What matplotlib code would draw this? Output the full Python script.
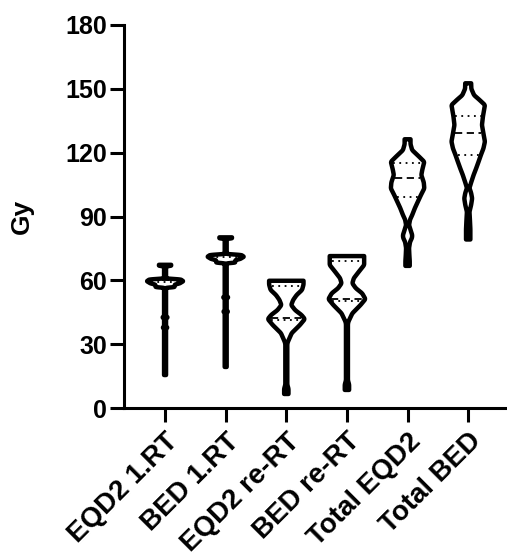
import numpy as np
import matplotlib
matplotlib.use("Agg")
import matplotlib.pyplot as plt

plt.rcParams['font.family'] = ['Liberation Sans', 'DejaVu Sans']
plt.rcParams['font.weight'] = 'bold'

categories = ["EQD2 1.RT", "BED 1.RT", "EQD2 re-RT", "BED re-RT", "Total EQD2", "Total BED"]

# density profiles: (dose value, relative half-width)
eqd2_1rt_y = [15.5, 37, 37.8, 38.6, 41.8, 42.6, 43.4, 56.5, 56.8, 58, 58.6, 59.6, 60.4, 60.9, 66.6, 66.8, 67.3]
eqd2_1rt_w = [1, 1, 2.2, 1, 1, 2.5, 1, 1, 9.5, 10, 15, 18.5, 16, 1, 1, 6.2, 6.2]
bed_1rt_y = [19.3, 44.5, 45.3, 46.1, 51.2, 52, 52.8, 68.0, 68.3, 69.5, 70.1, 71.1, 71.9, 72.4, 79.5, 79.7, 80.2]
bed_1rt_w = [1, 1, 2.2, 1, 1, 2.5, 1, 1, 9.5, 10, 15, 18.5, 16, 1, 1, 6.4, 6.4]
eqd2_re_y = [6.6, 9, 11, 30, 31, 35.2, 39, 41.8, 43.7, 46, 48.4, 50.8, 53.1, 55.5, 58, 59.8]
eqd2_re_w = [2.2, 2.2, 1, 1, 1.5, 5.5, 13.8, 18.8, 15.5, 9, 5, 7, 10.5, 16, 17.5, 17.5]
bed_re_y = [8.5, 11, 13, 39.5, 40.6, 44.5, 48.4, 51.2, 53.9, 56.3, 58.6, 61, 64, 67.2, 69.5, 71.4]
bed_re_w = [2.2, 2.2, 1, 1, 1.5, 5.5, 13.8, 18.8, 15.5, 9, 5.5, 7, 12, 17.5, 17.5, 17.5]
tot_eqd2_y = [66.8, 69, 72, 75.2, 78, 80, 81.3, 83, 86, 88.5, 90.7, 94, 97, 100, 103.2, 106, 109.5, 112, 115.7, 118, 121.2, 124, 126.3]
tot_eqd2_w = [2.2, 2.2, 1.8, 1.5, 2.5, 4.5, 4.7, 3.5, 1.5, 2.5, 4.7, 7.5, 10.5, 13.5, 17, 16.5, 14, 15, 17, 12, 4.7, 3, 3]
tot_bed_y = [79.2, 84, 88, 92.2, 95.5, 98.5, 101, 103.4, 106, 109.5, 112.5, 115.7, 119, 122, 125.2, 129, 133, 137, 142.4, 145, 147, 150, 152.6]
tot_bed_w = [2.2, 2.2, 1.8, 1.3, 3, 4, 3, 1.3, 3, 5.5, 8, 10.5, 13, 15.5, 17, 15.5, 14, 15, 17, 11, 6, 3.2, 3]

profiles_y = [eqd2_1rt_y, bed_1rt_y, eqd2_re_y, bed_re_y, tot_eqd2_y, tot_bed_y]
profiles_w = [eqd2_1rt_w, bed_1rt_w, eqd2_re_w, bed_re_w, tot_eqd2_w, tot_bed_w]

medians = [60, 72, 42.5, 51.2, 108.2, 129.1]
q1s = [59, 71, 41.5, 50.4, 99.3, 118.9]
q3s = [60.5, 72.5, 57.5, 69, 115, 137.4]

y_ticks = [0, 30, 60, 90, 120, 150, 180]

fig = plt.figure(figsize=(5.07, 5.59), dpi=100)
ax = fig.add_axes([0.2446, 0.2701, 0.7554, 0.6852])

MAXW = 0.30
LW = 3.2
smooth_k = [3, 3, 12, 12, 12, 12]

for i, (py, pw) in enumerate(zip(profiles_y, profiles_w)):
    py = np.asarray(py, float)
    pw = np.asarray(pw, float) / 18.5 * MAXW
    yy = np.arange(py[0], py[-1] + 1e-9, 0.05)
    ww = np.interp(yy, py, pw)
    k = smooth_k[i]
    pad = np.pad(ww, k, mode='edge')
    ker = np.ones(2 * k + 1) / (2 * k + 1)
    ww = np.convolve(pad, ker, mode='valid')
    xs = np.concatenate([i - ww, (i + ww)[::-1]])
    ys = np.concatenate([yy, yy[::-1]])
    ax.fill(xs, ys, facecolor='white', edgecolor='black', linewidth=LW,
            joinstyle='round', zorder=3)
    for val, ls in [(medians[i], (0, (4, 2.5))), (q1s[i], (0, (1, 2.5))), (q3s[i], (0, (1, 2.5)))]:
        hw = np.interp(val, yy, ww) - 0.035
        if hw > 0.03:
            ax.plot([i - hw, i + hw], [val, val], color='black', lw=1.3,
                    linestyle=ls, zorder=4, solid_capstyle='butt', dash_capstyle='butt')

ax.set_xlim(-0.677, 5.64)
ax.set_ylim(0, 180)
ax.set_yticks(y_ticks)
ax.set_yticklabels([str(t) for t in y_ticks], fontsize=18, fontweight='bold')
ax.set_xticks(range(len(categories)))
ax.set_xticklabels(categories, rotation=45, ha='right', va='top',
                   rotation_mode='anchor', fontsize=20, fontweight='bold')
ax.set_ylabel('Gy', fontsize=19, fontweight='bold')
ax.yaxis.set_label_coords(-0.235, 0.5)
for s in ['top', 'right']:
    ax.spines[s].set_visible(False)
for s in ['left', 'bottom']:
    ax.spines[s].set_linewidth(2.2)
ax.tick_params(axis='both', length=10, width=2.2, pad=2)
ax.tick_params(axis='x', pad=4.5)
ax.spines['left'].set_zorder(5)
ax.spines['bottom'].set_zorder(5)

fig.savefig('out.png', dpi=100)
